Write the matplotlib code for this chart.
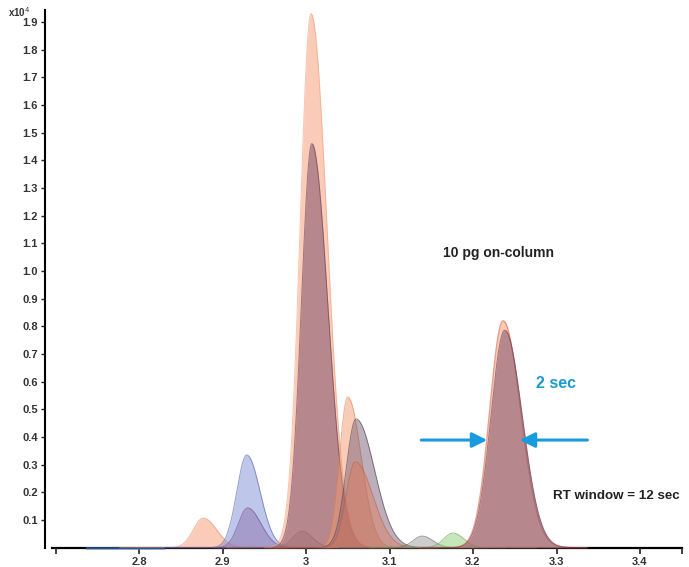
import numpy as np
import matplotlib
matplotlib.use("Agg")
import matplotlib.pyplot as plt

plt.rcParams['font.family'] = ['Liberation Sans', 'DejaVu Sans']

# Peak table: apex time (min), apex height (x10^4 counts), left/right widths (min)
peak_rt = [2.7835, 2.877, 2.929, 2.930, 2.995, 3.006, 3.007, 3.050, 3.060, 3.059,
           3.139, 3.176, 3.236, 3.238]
peak_height = [0.0, 0.107, 0.335, 0.144, 0.060, 1.930, 1.460, 0.544, 0.465, 0.310,
               0.042, 0.053, 0.820, 0.786]
sigma_left = [0.01, 0.012, 0.012, 0.011, 0.011, 0.013, 0.0125, 0.010, 0.012, 0.011,
              0.011, 0.011, 0.016, 0.0165]
sigma_right = [0.01, 0.016, 0.016, 0.016, 0.013, 0.019, 0.019, 0.016, 0.022, 0.021,
               0.013, 0.013, 0.021, 0.021]
# Extracted-ion window for each trace
win_start = [2.738, 2.777, 2.829, 2.830, 2.895, 2.906, 2.907, 2.950, 2.960, 2.959,
             3.039, 3.076, 3.136, 3.138]
win_end = [2.829, 2.977, 3.029, 3.030, 3.095, 3.106, 3.107, 3.150, 3.160, 3.159,
           3.239, 3.276, 3.336, 3.338]
fill_colors = ['#4a80c8', '#f7a27c', '#7f8fd6', '#8a6aa8', '#7a6078', '#f7a27c', '#8a5a70',
               '#f29a6e', '#7a6078', '#e07a5a',
               '#909090', '#8fcf7a', '#f7a27c', '#8a5a70']
edge_colors = ['#4a80c8', '#e08a6a', '#5060b0', '#6a4a88', '#5a4058', '#f0a080', '#6a3a50',
               '#d8805a', '#4a3848', '#c86040',
               '#606060', '#60a050', '#d86048', '#6a3a50']
fill_alpha = [0.0, 0.55, 0.5, 0.45, 0.4, 0.55, 0.6, 0.5, 0.5, 0.45,
              0.45, 0.5, 0.55, 0.6]
edge_width = [2.0, 0.7, 0.7, 0.7, 0.7, 0.7, 0.7, 0.7, 0.7, 0.7,
              0.7, 0.7, 1.0, 0.7]

x_ticks = [2.8, 2.9, 3.0, 3.1, 3.2, 3.3, 3.4]
x_tick_labels = ['2.8', '2.9', '3', '3.1', '3.2', '3.3', '3.4']
y_ticks = [round(0.1 * i, 1) for i in range(1, 20)]

fig = plt.figure(figsize=(6.89, 5.67), dpi=100)
ax = fig.add_axes([45 / 689, 19.3 / 567, 637 / 689, 537.7 / 567])

for i in range(len(peak_rt)):
    t = np.linspace(win_start[i], win_end[i], 600)
    s = np.where(t < peak_rt[i], sigma_left[i], sigma_right[i])
    y = peak_height[i] * np.exp(-0.5 * ((t - peak_rt[i]) / s) ** 2)
    ax.fill_between(t, 0, y, color=fill_colors[i], alpha=fill_alpha[i], lw=0, zorder=2 + i)
    ax.plot(t, y, color=edge_colors[i], lw=edge_width[i], alpha=0.6, zorder=2 + i,
            clip_on=False)

ax.set_xlim(2.6874, 3.4503)
ax.set_ylim(0, 1.943)

for side in ['top', 'right']:
    ax.spines[side].set_visible(False)
ax.spines['left'].set_linewidth(1.5)
ax.spines['bottom'].set_linewidth(1.6)
ax.spines['bottom'].set_bounds(2.696, 3.45)
ax.spines['bottom'].set_zorder(1)

ax.set_xticks(x_ticks)
ax.set_xticklabels(x_tick_labels)
ax.set_xticks([2.7, 3.45], minor=True)
ax.set_yticks(y_ticks)
ax.set_yticklabels([f'{v:.1f}' for v in y_ticks])
ax.tick_params(axis='both', which='both', direction='out', color='#222222',
               labelcolor='#333333', labelsize=8)
ax.tick_params(axis='x', which='both', length=4, width=1.2, pad=3)
ax.tick_params(axis='y', length=3, width=1, pad=2)
for lab in ax.get_xticklabels() + ax.get_yticklabels():
    lab.set_fontweight('bold')

fig.text(8 / 689, 1 - 12 / 567, 'x10$^4$', fontsize=7, fontweight='bold', color='#333333',
         va='center', ha='left')

# Peak-width arrows
arrow_y = 0.389
ax.annotate('', xy=(3.217, arrow_y), xytext=(3.138, arrow_y),
            arrowprops=dict(arrowstyle='-|>,head_length=0.9,head_width=0.45',
                            color='#1a9be0', lw=2.2, shrinkA=0, shrinkB=0), zorder=30)
ax.annotate('', xy=(3.256, arrow_y), xytext=(3.337, arrow_y),
            arrowprops=dict(arrowstyle='-|>,head_length=0.9,head_width=0.45',
                            color='#1a9be0', lw=2.2, shrinkA=0, shrinkB=0), zorder=30)

ax.text(3.164, 1.065, '10 pg on-column', fontsize=10, fontweight='bold', color='#222222',
        va='center', ha='left', zorder=30)
ax.text(3.276, 0.595, '2 sec', fontsize=11.5, fontweight='bold', color='#1a9bd0',
        va='center', ha='left', zorder=30)
ax.text(3.296, 0.187, 'RT window = 12 sec', fontsize=9.6, fontweight='bold', color='#222222',
        va='center', ha='left', zorder=30)

fig.savefig('out.png', dpi=100)
